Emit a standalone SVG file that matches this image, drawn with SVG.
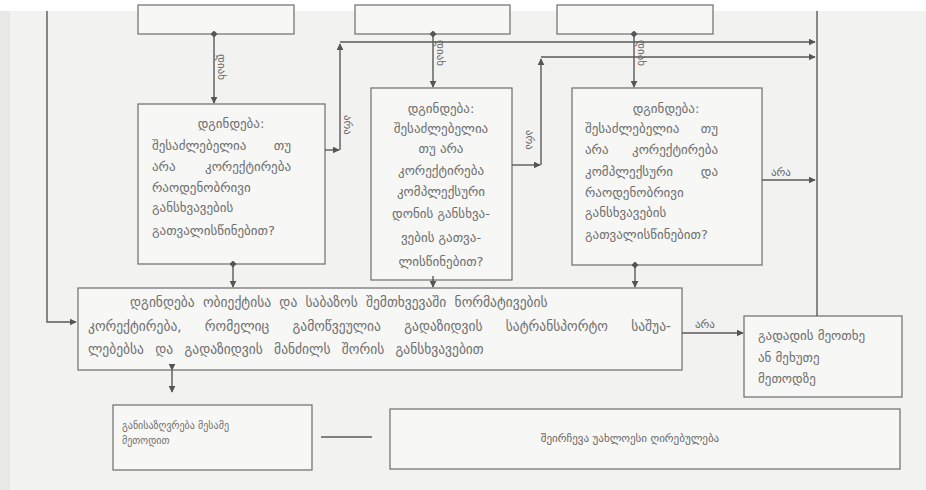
<svg xmlns="http://www.w3.org/2000/svg" width="926" height="490" viewBox="0 0 926 490">
<style>
.bx{fill:#f7f7f5;stroke:#777;stroke-width:1.3}
.ln{fill:none;stroke:#5a5a5a;stroke-width:1.4}
.t{font-family:"DejaVu Sans",sans-serif;font-size:13px;fill:#6e6e6e}
.tm{font-family:"DejaVu Sans",sans-serif;font-size:13.5px;fill:#6e6e6e}
.ts{font-family:"DejaVu Sans",sans-serif;font-size:10px;fill:#707070}
.tl{font-family:"DejaVu Sans",sans-serif;font-size:11px;fill:#666}
.c{text-anchor:middle}
.e{text-anchor:end}
</style>
<defs>
<marker id="ar" viewBox="0 0 10 10" refX="9" refY="5" markerWidth="7" markerHeight="7" orient="auto" markerUnits="userSpaceOnUse"><path d="M0,0 L10,5 L0,10 z" fill="#555"/></marker>
<marker id="dm" viewBox="0 0 10 10" refX="5" refY="5" markerWidth="7" markerHeight="7" orient="auto" markerUnits="userSpaceOnUse"><path d="M0,5 L5,0 L10,5 L5,10 z" fill="#555"/></marker>
</defs>
<rect x="0" y="0" width="926" height="490" fill="#f2f2f0"/>
<rect x="0" y="0" width="926" height="11" fill="#ffffff"/>
<rect x="0" y="11" width="10" height="479" fill="#e8e8e6"/>

<g id="top1"><rect class="bx" x="138" y="5" width="156" height="29"/></g>
<g id="top2"><rect class="bx" x="355" y="5" width="155" height="29"/></g>
<g id="top3"><rect class="bx" x="557" y="5" width="156" height="29"/></g>

<g id="dec1">
<rect class="bx" x="138" y="104" width="187" height="160"/>
<text class="t c" x="231" y="128">დგინდება:</text>
<text class="t" x="152" y="150">შესაძლებელია</text><text class="t e" x="291" y="150">თუ</text>
<text class="t" x="152" y="171">არა</text><text class="t e" x="291" y="171">კორექტირება</text>
<text class="t" x="152" y="192">რაოდენობრივი</text>
<text class="t" x="152" y="212">განსხვავების</text>
<text class="t" x="152" y="235">გათვალისწინებით?</text>
</g>

<g id="dec2">
<rect class="bx" x="371" y="88" width="141" height="192"/>
<text class="t c" x="441" y="113">დგინდება:</text>
<text class="t c" x="441" y="133">შესაძლებელია</text>
<text class="t c" x="441" y="153">თუ არა</text>
<text class="t c" x="441" y="175">კორექტირება</text>
<text class="t c" x="441" y="196">კომპლექსური</text>
<text class="t c" x="441" y="218">დონის განსხვა-</text>
<text class="t c" x="441" y="242">ვების გათვა-</text>
<text class="t c" x="441" y="266">ლისწინებით?</text>
</g>

<g id="dec3">
<rect class="bx" x="572" y="88" width="190" height="177"/>
<text class="t c" x="666" y="113">დგინდება:</text>
<text class="t" x="585" y="133">შესაძლებელია</text><text class="t e" x="718" y="133">თუ</text>
<text class="t" x="585" y="154">არა</text><text class="t e" x="718" y="154">კორექტირება</text>
<text class="t" x="585" y="176">კომპლექსური</text><text class="t e" x="718" y="176">და</text>
<text class="t" x="585" y="197">რაოდენობრივი</text>
<text class="t" x="585" y="217">განსხვავების</text>
<text class="t" x="585" y="239">გათვალისწინებით?</text>
</g>

<g id="main">
<rect class="bx" x="78" y="288" width="604" height="82"/>
<text class="tm" x="130" y="307" word-spacing="4">დგინდება ობიექტისა და საბაზოს შემთხვევაში ნორმატივების</text>
<text class="tm" x="88" y="331" word-spacing="19">კორექტირება, რომელიც გამოწვეულია გადაზიდვის სატრანსპორტო საშუა-</text>
<text class="tm" x="88" y="354" word-spacing="7">ლებებსა და გადაზიდვის მანძილს შორის განსხვავებით</text>
</g>

<g id="next">
<rect class="bx" x="744" y="316" width="158" height="81"/>
<text class="t" x="758" y="340">გადადის მეოთხე</text>
<text class="t" x="758" y="362">ან მეხუთე</text>
<text class="t" x="758" y="383">მეთოდზე</text>
</g>

<g id="third">
<rect class="bx" x="113" y="405" width="199" height="65"/>
<text class="ts" x="122" y="429">განისაზღვრება მესამე</text>
<text class="ts" x="122" y="444">მეთოდით</text>
</g>

<g id="choose">
<rect class="bx" x="390" y="409" width="510" height="60"/>
<text class="tl c" x="630" y="442">შეირჩევა უახლოესი ღირებულება</text>
</g>

<g id="connectors">
<path class="ln" d="M47,11 V322 H76" marker-end="url(#ar)"/>
<path class="ln" d="M817,11 V316"/>
<path class="ln" d="M214,34 V103" marker-start="url(#dm)" marker-end="url(#ar)"/>
<path class="ln" d="M433,34 V87" marker-start="url(#dm)" marker-end="url(#ar)"/>
<path class="ln" d="M634,34 V87" marker-start="url(#dm)" marker-end="url(#ar)"/>
<path class="ln" d="M325,150 H339" marker-end="url(#ar)"/>
<path class="ln" d="M340,150 V44" marker-end="url(#ar)"/>
<path class="ln" d="M340,42 H815" marker-end="url(#ar)"/>
<path class="ln" d="M512,165 H540" marker-end="url(#ar)"/>
<path class="ln" d="M541,165 V59" marker-end="url(#ar)"/>
<path class="ln" d="M541,57 H815" marker-end="url(#ar)"/>
<path class="ln" d="M762,180 H815" marker-end="url(#ar)"/>
<path class="ln" d="M233,264 V287" marker-start="url(#dm)" marker-end="url(#ar)"/>
<path class="ln" d="M433,276 V287" marker-end="url(#ar)"/>
<path class="ln" d="M635,265 V287" marker-start="url(#dm)" marker-end="url(#ar)"/>
<path class="ln" d="M682,333 H743" marker-end="url(#ar)"/>
<path class="ln" d="M172,370 V392" marker-start="url(#ar)" marker-end="url(#ar)"/>
<path class="ln" d="M321,437 H372"/>
<text class="tl" transform="translate(218,54) rotate(90)">დიახ</text>
<text class="tl" transform="translate(437,40) rotate(90)">დიახ</text>
<text class="tl" transform="translate(638,40) rotate(90)">დიახ</text>
<text class="tl" transform="translate(344,115) rotate(90)">არა</text>
<text class="tl" transform="translate(526,130) rotate(90)">არა</text>
<text class="tl" x="771" y="176">არა</text>
<text class="tl" x="695" y="328">არა</text>
</g>
</svg>
